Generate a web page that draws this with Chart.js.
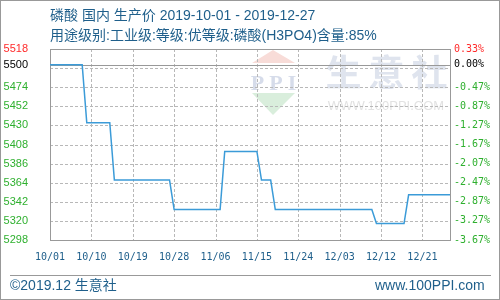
<!DOCTYPE html>
<html>
<head>
<meta charset="utf-8">
<script src="https://cdn.jsdelivr.net/npm/chart.js@4/dist/chart.umd.min.js"></script>
<style>
  html, body { margin: 0; padding: 0; background: #fff; }
  #chart { position: absolute; left: 0; top: 0; z-index: 1; }
  .txt { position: absolute; z-index: 3; font-family: "Liberation Sans", "Noto Sans CJK SC", sans-serif;
         font-size: 14px; line-height: 16px; white-space: nowrap; color: #1f5f8b; }
</style>
</head>
<body>
<canvas id="chart" width="500" height="300"></canvas>
<div class="txt" style="left:50px; top:7px;">磷酸 国内 生产价 2019-10-01 - 2019-12-27</div>
<div class="txt" style="left:50px; top:27px;">用途级别:工业级:等级:优等级:磷酸(H3PO4)含量:85%</div>
<div class="txt" style="left:10px; top:277px;">©2019.12 生意社</div>
<div class="txt" style="left:375px; top:277px;">www.100PPI.com</div>
<script>
// price points (date, yuan/ton) where the level changes
const dates = ['2019-10-01', '2019-10-08', '2019-10-09', '2019-10-14', '2019-10-15', '2019-10-27',
               '2019-10-28', '2019-11-07', '2019-11-08', '2019-11-15', '2019-11-16', '2019-11-18',
               '2019-11-19', '2019-12-10', '2019-12-11', '2019-12-17', '2019-12-18', '2019-12-27'];
const prices = [5500, 5500, 5433, 5433, 5367, 5367,
                5333, 5333, 5400, 5400, 5367, 5367,
                5333, 5333, 5317, 5317, 5350, 5350];

// axis ticks
const xTickLabels = ['10/01', '10/10', '10/19', '10/28', '11/06', '11/15', '11/24', '12/03', '12/12', '12/21'];
const yTicks = [5298, 5320, 5342, 5364, 5386, 5408, 5430, 5452, 5474, 5496, 5500, 5518];
const yTickLabels = ['5298', '5320', '5342', '5364', '5386', '5408', '5430', '5452', '5474', '', '5500', '5518'];
const pctTickLabels = ['-3.67%', '-3.27%', '-2.87%', '-2.47%', '-2.07%', '-1.67%', '-1.27%', '-0.87%', '-0.47%', '', '0.00%', '0.33%'];

const startDay = Date.UTC(2019, 9, 1);
const dayOf = s => (Date.UTC(2019, +s.slice(5, 7) - 1, +s.slice(8, 10)) - startDay) / 86400000;
const xTicks = xTickLabels.map(l => dayOf('2019-' + l.replace('/', '-')));
const lastDay = dayOf('2019-12-27');

const labelColor = c => {
    const v = c.tick ? c.tick.value : 0;
    return v === 5518 ? '#ff2a2a' : (v === 5500 ? '#000' : '#2fb02f');
};

// faint site watermark behind the grid
const watermarkPlugin = {
    id: 'watermark',
    beforeDraw(chart) {
        const ctx = chart.ctx;
        ctx.save();
        ctx.fillStyle = '#f8dcd8';
        ctx.beginPath(); ctx.moveTo(273, 50); ctx.lineTo(252, 63); ctx.lineTo(295, 63); ctx.closePath(); ctx.fill();
        ctx.fillStyle = '#d9eedc';
        ctx.beginPath(); ctx.moveTo(252, 93); ctx.lineTo(295, 93); ctx.lineTo(273, 115); ctx.closePath(); ctx.fill();
        ctx.textAlign = 'center';
        ctx.textBaseline = 'alphabetic';
        ctx.fillStyle = '#d6dcea';
        ctx.font = 'bold 22px "Liberation Serif"';
        ctx.letterSpacing = '5px';
        ctx.fillText('PPI', 276, 90);
        ctx.fillStyle = '#dfe4ee';
        ctx.font = 'bold 36px "Noto Sans CJK SC"';
        ctx.letterSpacing = '7px';
        ctx.fillText('生意社', 390, 86);
        ctx.fillStyle = '#e2e2e2';
        ctx.font = '13px "Liberation Sans"';
        ctx.letterSpacing = '0px';
        ctx.fillText('WWW.100PPI.COM', 386, 110);
        ctx.restore();
    }
};

// dashed grid from the scales' ticks, solid 5500 line, plot frame
const gridPlugin = {
    id: 'gridFrame',
    beforeDatasetsDraw(chart) {
        const a = chart.chartArea;
        const ctx = chart.ctx;
        const xs = chart.scales.x, ys = chart.scales.y;
        const L = Math.round(a.left), R = Math.round(a.right), T = Math.round(a.top), B = Math.round(a.bottom);
        ctx.save();
        ctx.globalAlpha = 1;
        ctx.globalCompositeOperation = 'source-over';
        ctx.fillStyle = '#b8b8b8';
        xTicks.forEach(v => {
            const x = Math.round(xs.getPixelForValue(v));
            for (let y = T; y < B; y += 5) ctx.fillRect(x, y, 1, Math.min(3, B - y));
        });
        yTicks.forEach(v => {
            if (v === 5500 || v === 5518) return;
            const y = Math.round(ys.getPixelForValue(v));
            for (let x = L; x < R; x += 5) ctx.fillRect(x, y, Math.min(3, R - x), 1);
        });
        ctx.fillStyle = '#999';
        const y0 = Math.round(ys.getPixelForValue(5500));
        ctx.fillRect(L, y0, R - L, 1);
        ctx.fillRect(L, T, R - L + 1, 1);
        ctx.fillRect(L, B, R - L + 1, 1);
        ctx.fillRect(L, T, 1, B - T);
        ctx.fillRect(R, T, 1, B - T);
        ctx.restore();
    },
    afterDraw(chart) {
        const ctx = chart.ctx;
        ctx.save();
        ctx.fillStyle = '#999';
        ctx.fillRect(10, 275, 481, 1);   // footer rule
        ctx.fillRect(0, 0, 500, 1);      // outer frame
        ctx.fillRect(0, 299, 500, 1);
        ctx.fillRect(0, 0, 1, 300);
        ctx.fillRect(499, 0, 1, 300);
        ctx.restore();
    }
};

new Chart(document.getElementById('chart'), {
    type: 'line',
    data: {
        datasets: [{
            data: dates.map((d, i) => ({ x: dayOf(d), y: prices[i] })),
            borderColor: '#3b9bd8',
            borderWidth: 1.5,
            pointRadius: 0,
            tension: 0,
            fill: false
        }]
    },
    options: {
        responsive: false,
        animation: false,
        layout: { padding: { top: 49, left: 0, right: 0, bottom: 0 } },
        plugins: { legend: { display: false }, tooltip: { enabled: false } },
        scales: {
            x: {
                type: 'linear',
                min: 0,
                max: lastDay,
                afterBuildTicks: s => { s.ticks = xTicks.map(v => ({ value: v })); },
                afterFit: s => { s.height = 60; },
                ticks: {
                    callback: (v, i) => xTickLabels[i],
                    font: { family: 'DejaVu Sans Mono', size: 10 },
                    color: '#1f5f8b',
                    padding: 11,
                    maxRotation: 0,
                    autoSkip: false
                },
                grid: { display: false, drawTicks: false },
                border: { display: false }
            },
            y: {
                position: 'left',
                min: 5298,
                max: 5518,
                afterBuildTicks: s => { s.ticks = yTicks.map(v => ({ value: v })); },
                afterFit: s => { s.width = 50; },
                ticks: {
                    callback: (v, i) => yTickLabels[i],
                    font: { family: 'Liberation Sans', size: 11 },
                    color: labelColor,
                    padding: 22
                },
                grid: { display: false, drawTicks: false },
                border: { display: false }
            },
            y1: {
                position: 'right',
                min: 5298,
                max: 5518,
                afterBuildTicks: s => { s.ticks = yTicks.map(v => ({ value: v })); },
                afterFit: s => { s.width = 50; },
                ticks: {
                    callback: (v, i) => pctTickLabels[i],
                    font: { family: 'DejaVu Sans Mono', size: 10 },
                    color: labelColor,
                    padding: 4
                },
                grid: { display: false, drawTicks: false },
                border: { display: false }
            }
        }
    },
    plugins: [watermarkPlugin, gridPlugin]
});
</script>
</body>
</html>
